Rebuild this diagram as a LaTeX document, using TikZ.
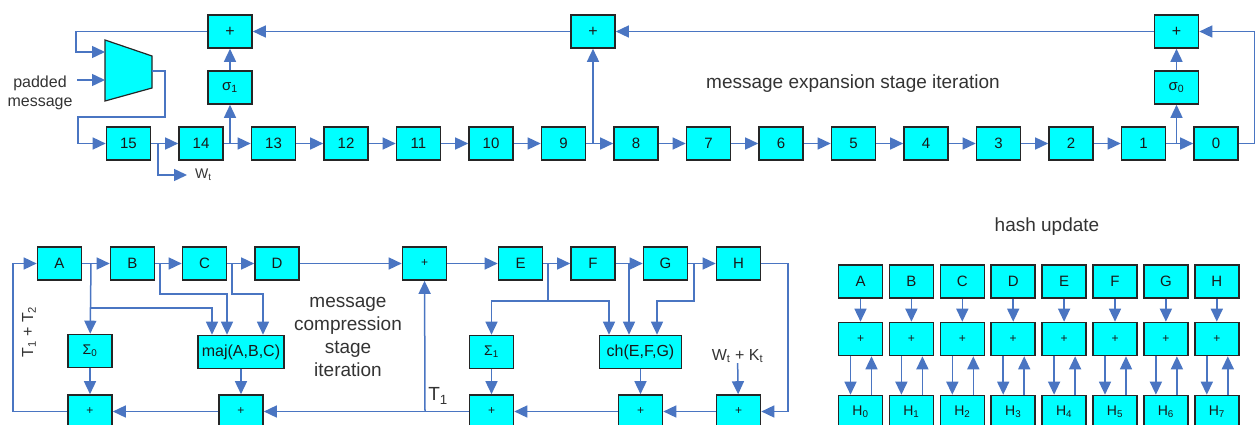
\documentclass[tikz,border=0pt]{standalone}
\usepackage{fontspec}
\setmainfont{Liberation Sans}
\usetikzlibrary{arrows.meta,calc}
\definecolor{lineb}{RGB}{74,117,194}
\definecolor{boxc}{RGB}{38,38,38}
\definecolor{boxfill}{RGB}{0,255,255}
\definecolor{txt}{RGB}{51,51,51}
\newcommand{\fs}[1]{\fontsize{#1}{#1}\selectfont}
\begin{document}
\begin{tikzpicture}[x=1pt,y=-1pt,
  box/.style={draw=boxc, fill=boxfill, line width=1.6pt, minimum width=44pt, minimum height=33pt, inner sep=0pt, font=\fs{15}, text=black!90},
  plusbig/.style={box, font=\fs{16}},
  plussm/.style={box, font=\fs{12}},
  conn/.style={draw=lineb, line width=1.5pt},
  arr/.style={conn, -{Triangle[length=13pt,width=12pt]}},
  lbl/.style={text=txt, inner sep=0pt}
]
\path[use as bounding box, clip] (0,0) rectangle (1255,425);

% ---------------- message expansion ----------------
\foreach \i in {0,...,15} {
  \node[box] (r\i) at ({1216-72.5*\i},143.5) {\i};
}
\node[plusbig] (pL) at (230,31.5) {+};
\node[box] (s1) at (230,87.5) {σ\textsubscript{1}};
\node[plusbig] (pM) at (593,31.5) {+};
\node[plusbig] (pR) at (1176.5,31.5) {+};
\node[box] (s0) at (1176.5,87.5) {σ\textsubscript{0}};

\foreach \a/\b in {15/14,14/13,13/12,12/11,11/10,10/9,9/8,8/7,7/6,6/5,5/4,4/3,3/2,2/1,1/0}
  \draw[arr] (r\a) -- (r\b);

\coordinate (j14) at (230,143.5);
\coordinate (j9) at (593,143.5);
\coordinate (j1) at (1176.5,143.5);
\coordinate (j15) at (158,143.5);
\draw[arr] (j14) -- (s1);
\draw[arr] (s1) -- (pL);
\draw[arr] (j9) -- (pM);
\draw[arr] (j1) -- (s0);
\draw[arr] (s0) -- (pR);
\draw[arr] (r0.east) -- ++(16,0) |- (pR);
\draw[arr] (pR) -- (pM);
\draw[arr] (pM) -- (pL);

% multiplexer
\draw[fill=boxfill, draw=boxc, line width=1.2pt] (105,40) -- (152,56) -- (152,88) -- (105,101) -- cycle;
\coordinate (muxA) at (105,52);
\coordinate (muxB) at (105,80);
\coordinate (muxO) at (152,71);
\draw[arr] (pL.west) -- (76,31.5) |- (muxA);
\node[lbl, align=center, font=\fs{16}, text=txt] (pm) at (40,93) {padded\\[3pt]message};
\coordinate (pmo) at (77,80);
\draw[arr] (pmo) -- (muxB);
\draw[arr] (muxO) -- (165,71) -- (165,117) -- (78,117) |- (r15);

\node[lbl, anchor=west, font=\fs{14}, inner xsep=8pt] (wt) at (187,175) {W\textsubscript{t}};
\draw[arr] (j15) |- (wt.west);

\node[lbl, font=\fs{19}, anchor=base] (exp) at (853,89) {message expansion stage iteration};

% ---------------- message compression ----------------
\node[box] (A) at (59.5,263.5) {A};
\node[box] (B) at (132.5,263.5) {B};
\node[box] (C) at (204.5,263.5) {C};
\node[box] (D) at (277,263.5) {D};
\node[plussm] (cP) at (424.5,263.5) {+};
\node[box] (E) at (520.5,263.5) {E};
\node[box] (F) at (593,263.5) {F};
\node[box] (G) at (665.5,263.5) {G};
\node[box] (H) at (738.5,263.5) {H};

\node[box, font=\fs{14}] (S0) at (90,351) {Σ\textsubscript{0}};
\node[box, minimum width=86pt, font=\fs{16}] (maj) at (241,352) {maj(A,B,C)};
\node[box, font=\fs{14}] (S1) at (491.5,352) {Σ\textsubscript{1}};
\node[box, minimum width=82pt, font=\fs{16}] (ch) at (640.5,352) {ch(E,F,G)};

\node[plussm] (b1) at (90,411.5) {+};
\node[plussm] (b2) at (241,411.5) {+};
\node[plussm] (b3) at (491.5,411.5) {+};
\node[plussm] (b4) at (640.5,411.5) {+};
\node[plussm] (b5) at (738.5,411.5) {+};

\draw[arr] (A) -- (B);
\draw[arr] (B) -- (C);
\draw[arr] (C) -- (D);
\draw[arr] (D) -- (cP);
\draw[arr] (cP) -- (E);
\draw[arr] (E) -- (F);
\draw[arr] (F) -- (G);
\draw[arr] (G) -- (H);

\coordinate (jA) at (91,263.5);
\coordinate (jA2) at (91,308);
\coordinate (jB) at (160,263.5);
\coordinate (jC) at (232,263.5);
\draw[arr] (jA) -- (S0);
\draw[arr] (jA2) -| ([xshift=-29pt]maj.north);
\draw[arr] (jB) -- (160,294) -| ([xshift=-14pt]maj.north);
\draw[arr] (jC) -- (232,294) -| ([xshift=22pt]maj.north);

\coordinate (jE) at (548,263.5);
\coordinate (jE2) at (548,301);
\coordinate (jF) at (629,263.5);
\coordinate (jG) at (694,263.5);
\draw[conn] (jE) -- (jE2);
\draw[arr] (jE2) -| (S1);
\draw[arr] (jE2) -| ([xshift=-31.5pt]ch.north);
\draw[arr] (jF) -- (jF |- ch.north);
\draw[arr] (jG) -- (694,301) -| ([xshift=16.5pt]ch.north);

\draw[arr] (S0) -- (b1);
\draw[arr] (maj) -- (b2);
\draw[arr] (S1) -- (b3);
\draw[arr] (ch) -- (b4);

\draw[arr] (H.east) -- (788,263.5) |- (b5);
\node[lbl, font=\fs{16}] (wk) at (737.5,356) {W\textsubscript{t} + K\textsubscript{t}};
\draw[arr] (wk) -- (b5);
\draw[arr] (b5) -- (b4);
\draw[arr] (b4) -- (b3);
\draw[arr] (b3) -- (b2);
\draw[arr] (b2) -- (b1);
\draw[arr] (b1.west) -- (13,411.5) |- (A);
\coordinate (jT) at (425,411.5);
\draw[arr] (jT) -- (cP);
\node[lbl, font=\fs{19}] (t1) at (438,396) {T\textsubscript{1}};
\node[lbl, font=\fs{16}, rotate=90] (t12) at (29,332) {T\textsubscript{1} + T\textsubscript{2}};
\node[lbl, font=\fs{19}, align=center] (cmp) at (348,337) {message\\[4pt]compression\\[4pt]stage\\[4pt]iteration};

% ---------------- hash update ----------------
\node[lbl, font=\fs{19}, anchor=base] (hu) at (1047,231) {hash update};
\foreach \n [count=\k from 0] in {A,B,C,D,E,F,G,H} {
  \node[box] (h\n) at ({860.5+50.9*\k},281.5) {\n};
  \node[plussm] (hp\n) at ({860.5+50.9*\k},339) {+};
  \node[box, font=\fs{14}] (hH\n) at ({860.5+50.9*\k},412) {H\textsubscript{\k}};
  \draw[arr] (h\n) -- (hp\n);
  \draw[arr] ([xshift=-10pt]hp\n.south) -- ([xshift=-10pt]hH\n.north);
  \draw[arr] ([xshift=11pt]hH\n.north) -- ([xshift=11pt]hp\n.south);
}
\end{tikzpicture}
\end{document}
